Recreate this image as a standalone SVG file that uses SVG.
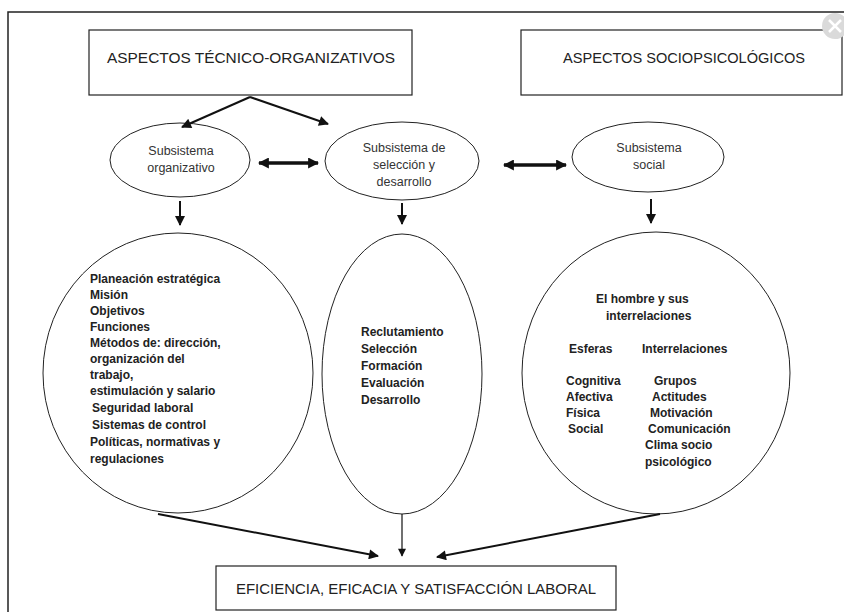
<svg xmlns="http://www.w3.org/2000/svg" width="844" height="612" viewBox="0 0 844 612">
  <style>
    .box { fill: #fff; stroke: #222; stroke-width: 1.2; }
    .ell { fill: #fff; stroke: #222; stroke-width: 1; }
    .cap { font-family: "Liberation Sans", Arial, sans-serif; font-size: 14.5px; fill: #222; }
    .sub { font-family: "Liberation Sans", Arial, sans-serif; font-size: 12.5px; fill: #333; text-anchor: middle; }
    .lst { font-family: "Liberation Sans", Arial, sans-serif; font-size: 12px; font-weight: bold; fill: #222; }
    .ln { stroke: #111; stroke-width: 2; fill: none; }
    .thick { stroke: #111; stroke-width: 3.5; fill: none; }
    .thin { stroke: #111; stroke-width: 1.2; fill: none; }
  </style>
  <defs>
    <!-- filled triangular heads sized in user units -->
    <marker id="head" viewBox="0 0 10 10" refX="9" refY="5" markerUnits="userSpaceOnUse" markerWidth="11" markerHeight="10" orient="auto-start-reverse">
      <path d="M0,0 L10,5 L0,10 z" fill="#111"/>
    </marker>
    <marker id="headW" viewBox="0 0 10 10" refX="9" refY="5" markerUnits="userSpaceOnUse" markerWidth="11" markerHeight="11" orient="auto-start-reverse">
      <path d="M0,0 L10,5 L0,10 z" fill="#111"/>
    </marker>
    <marker id="headS" viewBox="0 0 10 10" refX="9" refY="5" markerUnits="userSpaceOnUse" markerWidth="10" markerHeight="8" orient="auto">
      <path d="M0,0 L10,5 L0,10 z" fill="#111"/>
    </marker>
  </defs>

  <rect width="844" height="612" fill="#fff"/>
  <!-- outer frame -->
  <path d="M8,612 L8,12 L844,12" fill="none" stroke="#222" stroke-width="1.5"/>

  <g id="aspectos-tecnico">
    <rect class="box" x="89" y="30" width="323" height="65"/>
    <text class="cap" x="107" y="63" textLength="288" lengthAdjust="spacingAndGlyphs">ASPECTOS TÉCNICO-ORGANIZATIVOS</text>
  </g>
  <g id="aspectos-socio">
    <rect class="box" x="521" y="30" width="321" height="65"/>
    <text class="cap" x="563" y="63" textLength="242" lengthAdjust="spacingAndGlyphs">ASPECTOS SOCIOPSICOLÓGICOS</text>
  </g>

  <!-- close button over the corner -->
  <g id="close-button">
    <circle cx="835" cy="26" r="13" fill="#dadada"/>
    <path d="M829,20 L841,32 M841,20 L829,32" stroke="#fff" stroke-width="2.5"/>
  </g>

  <g id="sub-organizativo">
    <ellipse class="ell" cx="180" cy="160" rx="70" ry="37"/>
    <text class="sub" x="181" y="155">Subsistema</text>
    <text class="sub" x="181" y="172">organizativo</text>
  </g>
  <g id="sub-seleccion">
    <ellipse class="ell" cx="402" cy="161" rx="77" ry="39"/>
    <text class="sub" x="404" y="152">Subsistema de</text>
    <text class="sub" x="404" y="169">selección y</text>
    <text class="sub" x="404" y="186">desarrollo</text>
  </g>
  <g id="sub-social">
    <ellipse class="ell" cx="648" cy="157" rx="76" ry="35"/>
    <text class="sub" x="649" y="152">Subsistema</text>
    <text class="sub" x="649" y="169">social</text>
  </g>

  <g id="organizativo-detalle">
    <ellipse class="ell" cx="178" cy="373" rx="135" ry="140"/>
    <text class="lst" x="90" y="283">Planeación estratégica</text>
    <text class="lst" x="90" y="299">Misión</text>
    <text class="lst" x="90" y="315">Objetivos</text>
    <text class="lst" x="90" y="331">Funciones</text>
    <text class="lst" x="90" y="347">Métodos de: dirección,</text>
    <text class="lst" x="90" y="363">organización del</text>
    <text class="lst" x="90" y="379">trabajo,</text>
    <text class="lst" x="90" y="395">estimulación y salario</text>
    <text class="lst" x="92" y="412">Seguridad laboral</text>
    <text class="lst" x="92" y="429">Sistemas de control</text>
    <text class="lst" x="90" y="446">Políticas, normativas y</text>
    <text class="lst" x="90" y="463">regulaciones</text>
  </g>

  <g id="seleccion-detalle">
    <ellipse class="ell" cx="402" cy="374" rx="80" ry="140"/>
    <text class="lst" x="361" y="336">Reclutamiento</text>
    <text class="lst" x="361" y="353">Selección</text>
    <text class="lst" x="361" y="370">Formación</text>
    <text class="lst" x="361" y="387">Evaluación</text>
    <text class="lst" x="361" y="404">Desarrollo</text>
  </g>

  <g id="social-detalle">
    <ellipse class="ell" cx="656" cy="373" rx="134" ry="141"/>
    <text class="lst" x="596" y="303">El hombre y sus</text>
    <text class="lst" x="606" y="320">interrelaciones</text>
    <text class="lst" x="569" y="353">Esferas</text>
    <text class="lst" x="642" y="353">Interrelaciones</text>
    <text class="lst" x="566" y="385">Cognitiva</text>
    <text class="lst" x="566" y="401">Afectiva</text>
    <text class="lst" x="566" y="417">Física</text>
    <text class="lst" x="568" y="433">Social</text>
    <text class="lst" x="654" y="385">Grupos</text>
    <text class="lst" x="652" y="401">Actitudes</text>
    <text class="lst" x="650" y="417">Motivación</text>
    <text class="lst" x="648" y="433">Comunicación</text>
    <text class="lst" x="645" y="449">Clima socio</text>
    <text class="lst" x="645" y="466">psicológico</text>
  </g>

  <g id="resultado">
    <rect class="box" x="216" y="566" width="400" height="44"/>
    <text class="cap" x="236" y="594" textLength="360" lengthAdjust="spacingAndGlyphs">EFICIENCIA, EFICACIA Y SATISFACCIÓN LABORAL</text>
  </g>

  <g id="connectors">
    <!-- from the technical aspects box -->
    <line class="ln" x1="250" y1="97" x2="182" y2="127" marker-end="url(#head)"/>
    <line class="ln" x1="250" y1="97" x2="328" y2="124" marker-end="url(#head)"/>
    <!-- two-way links between subsystems -->
    <line class="thick" x1="259" y1="163" x2="318" y2="163" marker-start="url(#headW)" marker-end="url(#headW)"/>
    <line class="thick" x1="504" y1="165" x2="566" y2="165" marker-start="url(#headW)" marker-end="url(#headW)"/>
    <!-- subsystem to detail -->
    <line class="ln" x1="180" y1="201" x2="180" y2="225" marker-end="url(#head)"/>
    <line class="ln" x1="402" y1="203" x2="402" y2="224" marker-end="url(#head)"/>
    <line class="ln" x1="651" y1="199" x2="651" y2="223" marker-end="url(#head)"/>
    <!-- details to outcome -->
    <line class="ln" x1="158" y1="514" x2="378" y2="556" marker-end="url(#head)"/>
    <line class="thin" x1="402" y1="514" x2="402" y2="556" marker-end="url(#headS)"/>
    <line class="ln" x1="660" y1="514" x2="437" y2="557" marker-end="url(#head)"/>
  </g>
</svg>
